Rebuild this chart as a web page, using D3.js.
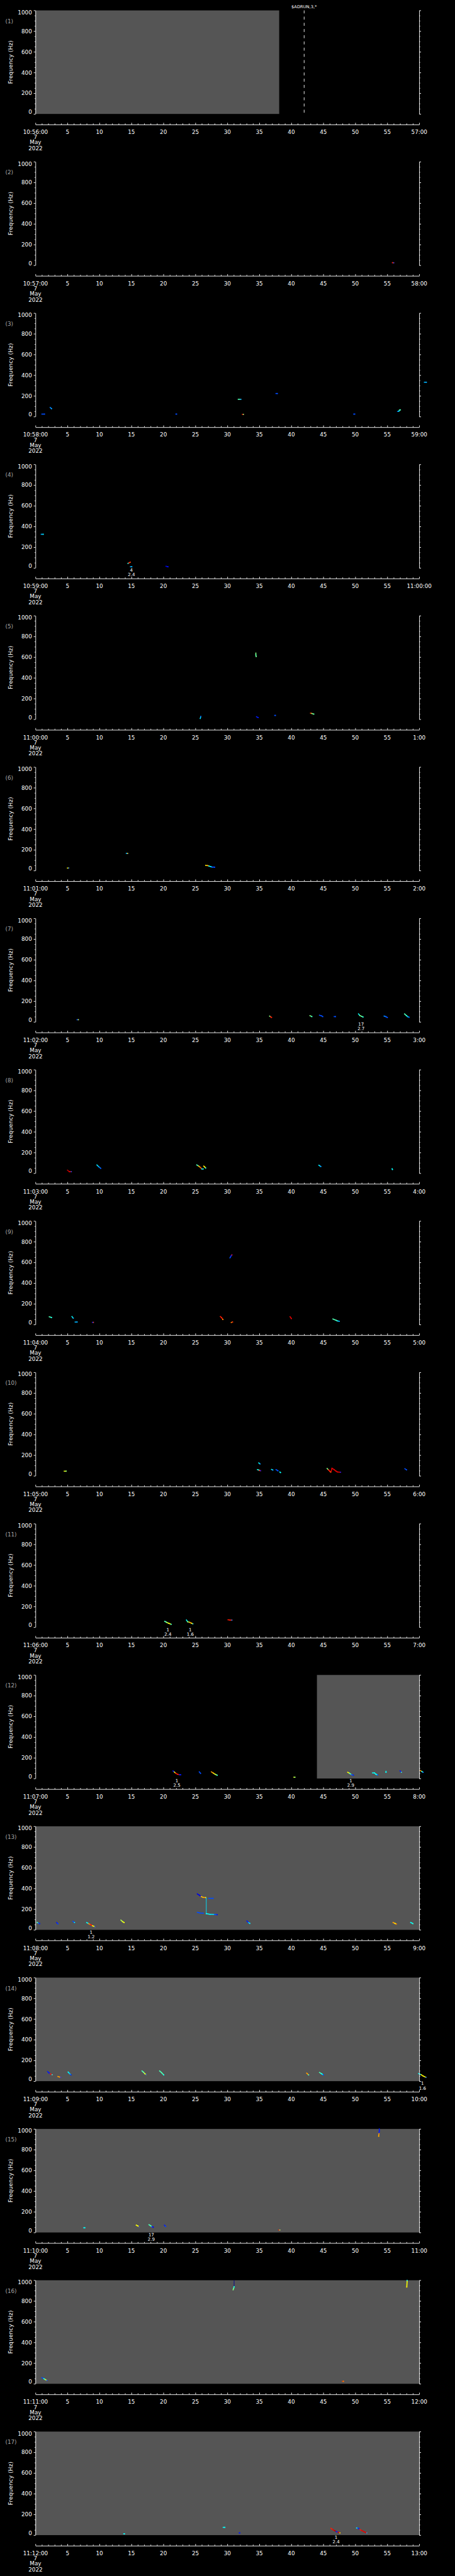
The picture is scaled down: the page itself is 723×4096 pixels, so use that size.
<!DOCTYPE html>
<html><head><meta charset="utf-8">
<script src="https://cdn.jsdelivr.net/npm/d3@7"></script>
<style>html,body{margin:0;padding:0;background:#000;}svg{display:block;}</style>
</head><body>
<script>
// ---------- DATA ----------
const panelNumbers = [1,2,3,4,5,6,7,8,9,10,11,12,13,14,15,16,17];
const startLabels = ["10:56:00","10:57:00","10:58:00","10:59:00","11:00:00","11:01:00","11:02:00","11:03:00","11:04:00","11:05:00","11:06:00","11:07:00","11:08:00","11:09:00","11:10:00","11:11:00","11:12:00"];
const endLabels = ["57:00","58:00","59:00","11:00:00","1:00","2:00","3:00","4:00","5:00","6:00","7:00","8:00","9:00","10:00","11:00","12:00","13:00"];
const dateLines = ["7","May","2022"];
const midTicks = [5,10,15,20,25,30,35,40,45,50,55];
const freqTicks = [0,200,400,600,800,1000];
// shaded (no data) intervals: [panel, startSec, endSec]
const shadeRanges = [[1,0,38.1],[12,44.0,60],[13,0,60],[14,0,60],[15,0,60],[16,0,60],[17,0,60]];
// event markers: [panel, sec, label]
const markers = [[1,42.0,"$ADRUN,3,*"]];
// annotations under plot: [panel, sec, line1, line2]
const annots = [[4,15.0,"4","2.4"],[7,50.9,"17","2.7"],[11,20.7,"1","2.4"],[11,24.2,"1","1.6"],[12,22.1,"1","2.5"],[12,49.3,"1","2.9"],[13,8.7,"1","1.2"],[14,60.5,"1","1.6"],[15,18.1,"17","2.9"],[17,47.0,"1","2.4"]];
// tracks: [sec, Hz, intensity 0..1]
const p2Tracks = [[[55.8,25,0.85],[56.0,24,0.2]]];
const p3Tracks = [
 [[1.0,24,0.2],[1.4,24,0.2]],[[2.3,88,0.25],[2.5,77,0.3]],[[21.95,24,0.2],[22.05,24,0.2]],
 [[31.7,167,0.45],[32.1,167,0.25]],[[32.35,22,0.85],[32.5,22,0.5]],[[37.6,223,0.2],[37.8,223,0.2]],
 [[49.75,24,0.2],[49.9,24,0.2]],[[56.6,50,0.25],[56.8,52,0.38],[56.9,63,0.45],[57.05,65,0.45]],
 [[60.8,332,0.3],[61.1,332,0.3]]];
const p4Tracks = [
 [[0.9,325,0.3],[1.2,325,0.38]],[[14.45,43,0.4],[14.6,48,0.85],[14.8,55,0.8]],
 [[14.85,11,0.3],[15.05,11,0.3]],[[20.4,16,0.1],[20.7,11,0.15]]];
const p5Tracks = [
 [[34.45,639,0.5],[34.45,620,0.45],[34.5,606,0.5]],[[25.75,7,0.35],[25.85,26,0.2]],
 [[34.55,24,0.15],[34.8,17,0.15]],[[37.4,37,0.2],[37.5,37,0.2]],[[43.0,59,0.8],[43.2,56,0.5],[43.5,50,0.45]]];
const p6Tracks = [
 [[5.0,24,0.62],[5.2,24,0.2]],[[14.2,166,0.3],[14.4,166,0.7]],
 [[26.6,50,0.65],[26.9,48,0.72],[27.1,44,0.38],[27.4,38,0.35],[27.6,34,0.2],[28.0,33,0.2]]];
const p7Tracks = [
 [[6.5,21,0.2],[6.7,21,0.6]],[[36.6,56,0.5],[36.75,50,0.85],[36.9,43,0.85]],[[42.9,60,0.5],[43.2,51,0.4]],
 [[44.4,64,0.2],[44.7,58,0.2],[44.9,51,0.2]],[[46.7,51,0.2],[46.9,51,0.2]],
 [[50.5,77,0.38],[50.7,62,0.5],[51.0,53,0.45],[51.2,47,0.4]],[[54.5,56,0.25],[54.8,50,0.2],[55.0,43,0.2]],
 [[57.7,77,0.45],[58.0,60,0.4],[58.2,50,0.3],[58.4,45,0.2]]];
const p8Tracks = [
 [[5.0,30,0.95],[5.3,15,0.9],[5.6,15,0.2]],[[9.6,80,0.35],[9.9,62,0.25],[10.2,47,0.2]],
 [[25.2,80,0.45],[25.5,69,0.7],[25.8,55,0.8],[26.0,41,0.4],[26.2,41,0.35]],
 [[26.3,69,0.65],[26.45,60,0.62],[26.6,50,0.35]],[[44.3,77,0.35],[44.6,65,0.25]],[[55.75,43,0.38],[55.8,36,0.38]]];
const p9Tracks = [
 [[2.15,75,0.45],[2.5,68,0.38]],[[5.7,77,0.38],[5.9,62,0.28]],[[6.2,24,0.3],[6.5,24,0.3]],
 [[8.9,21,0.15],[9.05,21,0.8]],[[30.4,644,0.2],[30.55,660,0.15],[30.7,672,0.85]],
 [[28.9,77,0.85],[29.1,66,0.85],[29.3,49,0.7]],[[30.6,19,0.75],[30.8,24,0.85]],
 [[39.8,75,0.9],[40.0,58,0.9]],[[46.5,54,0.45],[47.0,41,0.45],[47.2,35,0.35],[47.5,32,0.25]]];
const p10Tracks = [
 [[4.5,45,0.6],[4.8,45,0.5]],[[34.9,125,0.38],[35.1,116,0.25]],
 [[34.7,60,0.4],[34.95,55,0.4],[35.0,52,0.85],[35.2,50,0.15]],[[36.9,62,0.38],[37.1,56,0.25]],
 [[37.6,60,0.2],[37.9,49,0.2]],[[38.2,37,0.38],[38.3,32,0.38]],
 [[45.6,71,0.5],[45.8,58,0.85],[46.0,45,0.85],[46.15,37,0.65]],
 [[46.2,37,0.9],[46.35,73,0.9],[46.7,60,0.9],[47.0,45,0.9],[47.2,38,0.9],[47.7,35,0.15]],
 [[57.75,69,0.2],[58.0,58,0.2]]];
const p11Tracks = [
 [[20.2,56,0.45],[20.5,47,0.55],[20.8,38,0.62],[21.2,28,0.38]],
 [[23.6,69,0.38],[23.8,52,0.55],[24.1,47,0.72],[24.4,38,0.62],[24.6,32,0.3]],
 [[30.1,71,0.85],[30.4,69,0.85],[30.7,68,0.25]]];
const p12Tracks = [
 [[21.5,73,0.15],[21.7,63,0.62],[21.9,52,0.85],[22.2,41,0.85],[22.5,37,0.15],[22.7,36,0.15]],
 [[25.6,64,0.2],[25.8,50,0.2]],[[27.5,64,0.72],[27.8,52,0.65],[28.1,40,0.55],[28.4,32,0.38]],
 [[40.4,13,0.6],[40.55,13,0.5]],[[48.8,60,0.62],[49.1,50,0.45],[49.4,38,0.2],[49.7,32,0.15]],
 [[52.7,54,0.38],[53.0,54,0.38],[53.2,42,0.38],[53.5,34,0.15]],[[54.8,69,0.38],[54.8,60,0.38]],
 [[57.0,73,0.15],[57.2,60,0.45]],[[60.15,77,0.72],[60.4,68,0.4],[60.6,60,0.2]]];
const p13Tracks = [
 [[0.25,71,0.45],[0.45,66,0.2],[0.65,60,0.15]],[[3.3,71,0.15],[3.5,58,0.2]],[[5.85,82,0.2],[6.1,71,0.38]],
 [[8.0,71,0.38],[8.3,60,0.75],[8.6,50,0.85],[8.9,40,0.62],[9.3,30,0.15]],
 [[13.35,94,0.55],[13.6,80,0.6],[13.85,71,0.62]],
 [[25.3,347,0.1],[25.6,335,0.1],[25.9,322,0.68],[26.2,314,0.72],[26.6,311,0.6]],
 [[26.7,311,0.35],[26.7,156,0.35]],[[27.1,304,0.2],[27.75,304,0.2]],
 [[25.3,169,0.2],[25.7,163,0.2],[26.2,160,0.2]],
 [[26.7,156,0.38],[27.3,150,0.35],[28.0,148,0.2],[28.4,146,0.1]],
 [[33.05,86,0.15],[33.3,70,0.3],[33.5,62,0.38]],[[55.9,71,0.72],[56.2,62,0.62],[56.4,56,0.8]],
 [[58.65,71,0.38],[59.0,60,0.42]]];
const p14Tracks = [
 [[1.9,92,0.15],[2.1,80,0.15],[2.3,71,0.85],[2.6,62,0.38]],[[3.5,45,0.72],[3.95,36,0.15]],
 [[5.1,88,0.38],[5.3,75,0.3],[5.55,60,0.1]],[[16.65,99,0.45],[16.9,85,0.5],[17.1,71,0.62],[17.3,64,0.2]],
 [[19.4,99,0.45],[19.7,83,0.45],[20.05,60,0.38]],[[42.4,77,0.72],[42.7,60,0.38]],
 [[44.4,84,0.45],[44.7,72,0.38],[45.0,60,0.15]],[[59.9,73,0.38],[60.3,62,0.65],[60.6,50,0.62],[61.05,36,0.2]]];
const p15Tracks = [
 [[7.55,45,0.38],[7.7,45,0.38]],[[15.75,71,0.62],[16.0,63,0.62],[16.2,56,0.15]],
 [[17.75,75,0.45],[18.0,65,0.45],[18.2,56,0.15],[18.4,51,0.1]],[[20.15,71,0.15],[20.35,58,0.2]],
 [[38.05,24,0.85],[38.2,24,0.5]],[[53.75,1000,0.15],[53.75,980,0.15],[53.7,955,0.72],[53.65,930,0.7]]];
const p16Tracks = [
 [[1.0,60,0.2],[1.3,50,0.4],[1.5,42,0.55],[1.8,32,0.15]],[[31.05,1000,0.0],[31.05,935,0.0]],
 [[30.9,908,0.5],[31.0,925,0.45],[31.05,938,0.38]],[[48.0,24,0.8],[48.15,24,0.75]],
 [[58.1,1000,0.38],[58.1,990,0.62],[58.05,935,0.65]]];
const p17Tracks = [
 [[13.8,13,0.38],[13.9,13,0.38]],[[29.35,75,0.38],[29.6,75,0.38]],[[31.85,21,0.15],[31.95,21,0.15]],
 [[46.2,66,0.85],[46.5,52,0.9],[46.8,41,0.95],[47.0,35,0.15],[47.3,28,0.9],[47.6,21,0.62]],
 [[50.2,69,0.38],[50.4,69,0.15],[50.7,55,0.85],[51.0,44,0.9],[51.4,32,0.9],[51.8,21,0.3]]];
const panelTracks = [[],p2Tracks,p3Tracks,p4Tracks,p5Tracks,p6Tracks,p7Tracks,p8Tracks,p9Tracks,p10Tracks,p11Tracks,p12Tracks,p13Tracks,p14Tracks,p15Tracks,p16Tracks,p17Tracks];

// ---------- LAYOUT ----------
const S = 0.705, REFW = 1024, REFH = 5802;
const period = REFH / 17;
const FONT = "DejaVu Sans, Verdana, sans-serif";
const svg = d3.select("body").append("svg").attr("width", 723).attr("height", 4096);
svg.append("rect").attr("width",723).attr("height",4096).attr("fill","#000");
const root = svg.append("g").attr("transform", `scale(${S})`);

const x = d3.scaleLinear().domain([0,60]).range([80,945]);
const y = d3.scaleLinear().domain([0,1000]).range([257,23.5]);
const jet = d3.scaleLinear()
  .domain([0,0.125,0.375,0.625,0.875,1])
  .range(["#00008f","#0000ff","#00ffff","#ffff00","#ff0000","#800000"]);
const LW = 1.3;

panelNumbers.forEach((pn, i) => {
  const g = root.append("g").attr("transform", `translate(0,${i*period})`);
  // shading
  shadeRanges.filter(d => d[0] === pn).forEach(d => {
    g.append("rect").attr("x", x(d[1])).attr("y", y(1000)).attr("width", x(d[2]) - x(d[1]))
      .attr("height", y(0) - y(1000)).attr("fill", "#555555");
  });
  // markers
  markers.filter(d => d[0] === pn).forEach(d => {
    g.append("line").attr("x1", x(d[1])).attr("x2", x(d[1])).attr("y1", y(1000)).attr("y2", y(0))
      .attr("stroke", "#fff").attr("stroke-width", LW).attr("stroke-dasharray", "6.7,7.3");
    g.append("text").attr("x", x(d[1])).attr("y", 19).attr("text-anchor","middle")
      .attr("fill","#fff").attr("font-family",FONT).attr("font-size",9.5).text(d[2]);
  });
  // tracks
  panelTracks[i].forEach(tr => {
    for (let k = 0; k < tr.length - 1; k++) {
      const a = tr[k], b = tr[k+1];
      const connector = a[0] === b[0] && Math.abs(a[1] - b[1]) > 50;
      g.append("line").attr("x1", x(a[0])).attr("y1", y(a[1])).attr("x2", x(b[0])).attr("y2", y(b[1]))
        .attr("stroke", jet(a[2])).attr("stroke-width", connector ? 1.3 : 2.3).attr("stroke-linecap", connector ? "butt" : "square");
    }
    const last = tr[tr.length-1];
    g.append("rect").attr("x", x(last[0]) - 1.15).attr("y", y(last[1]) - 1.15).attr("width",2.3).attr("height",2.3)
      .attr("fill", jet(last[2]));
  });
  // left axis
  const axL = g.append("g").attr("transform","translate(80,0)");
  axL.call(d3.axisLeft(y).tickValues(freqTicks).tickSize(4).tickSizeOuter(0).tickFormat(""));
  const axLm = g.append("g").attr("transform","translate(80,0)");
  axLm.call(d3.axisLeft(y).tickValues(d3.range(0,1001,50).filter(v => v % 200)).tickSize(2).tickSizeOuter(0).tickFormat(""));
  const axR = g.append("g").attr("transform","translate(945,0)");
  axR.call(d3.axisRight(y).tickValues(freqTicks).tickSize(4).tickSizeOuter(0).tickFormat(""));
  const axRm = g.append("g").attr("transform","translate(945,0)");
  axRm.call(d3.axisRight(y).tickValues(d3.range(0,1001,50).filter(v => v % 200)).tickSize(2).tickSizeOuter(0).tickFormat(""));
  [axL, axLm, axR, axRm].forEach(a => { a.selectAll("path,line").attr("stroke","#fff").attr("stroke-width",LW); });
  axLm.select("path").remove(); axRm.select("path").remove();
  freqTicks.forEach(v => {
    const yy = Math.min(Math.max(y(v) + 4.5, y(1000) + 9), y(0));
    g.append("text").attr("x", 72).attr("y", yy).attr("text-anchor","end").attr("fill","#fff")
      .attr("font-family",FONT).attr("font-size",12.5).text(v);
  });
  // y title
  g.append("text").attr("transform","translate(28,140) rotate(-90)").attr("text-anchor","middle")
    .attr("fill","#fff").attr("font-family",FONT).attr("font-size",12.5).attr("letter-spacing",0.3)
    .text("Frequency  (Hz)");
  // panel label
  g.append("text").attr("x",12).attr("y",52).attr("fill","#a8a8a8").attr("font-family",FONT)
    .attr("font-size",12.5).text(`(${pn})`);
  // bottom time axis
  const axB = g.append("g").attr("transform","translate(0,281)");
  axB.call(d3.axisTop(x).tickValues([0].concat(midTicks, [60])).tickSize(4).tickSizeOuter(0).tickFormat(""));
  const axBm = g.append("g").attr("transform","translate(0,281)");
  axBm.call(d3.axisTop(x).tickValues(d3.range(0,61).filter(v => v % 5)).tickSize(2.5).tickSizeOuter(0).tickFormat(""));
  [axB, axBm].forEach(a => a.selectAll("path,line").attr("stroke","#fff").attr("stroke-width",LW));
  axBm.select("path").remove();
  const labs = [[0,startLabels[i]]].concat(midTicks.map(v => [v, String(v)]), [[60,endLabels[i]]]);
  labs.forEach(d => {
    g.append("text").attr("x", x(d[0])).attr("y", 302.5).attr("text-anchor","middle").attr("fill","#fff")
      .attr("font-family",FONT).attr("font-size",12.5).text(d[1]);
  });
  dateLines.forEach((s, k) => {
    g.append("text").attr("x", x(0)).attr("y", [314, 325.5, 339][k]).attr("text-anchor","middle").attr("fill","#fff")
      .attr("font-family",FONT).attr("font-size",12.5).text(s);
  });
  // annotations
  annots.filter(d => d[0] === pn).forEach(d => {
    g.append("text").attr("x", x(d[1])).attr("y", 266).attr("text-anchor","middle").attr("fill","#fff")
      .attr("font-family",FONT).attr("font-size",10).text(d[2]);
    g.append("text").attr("x", x(d[1])).attr("y", 276).attr("text-anchor","middle").attr("fill","#fff")
      .attr("font-family",FONT).attr("font-size",10).text(d[3]);
  });
});
</script>
</body></html>
